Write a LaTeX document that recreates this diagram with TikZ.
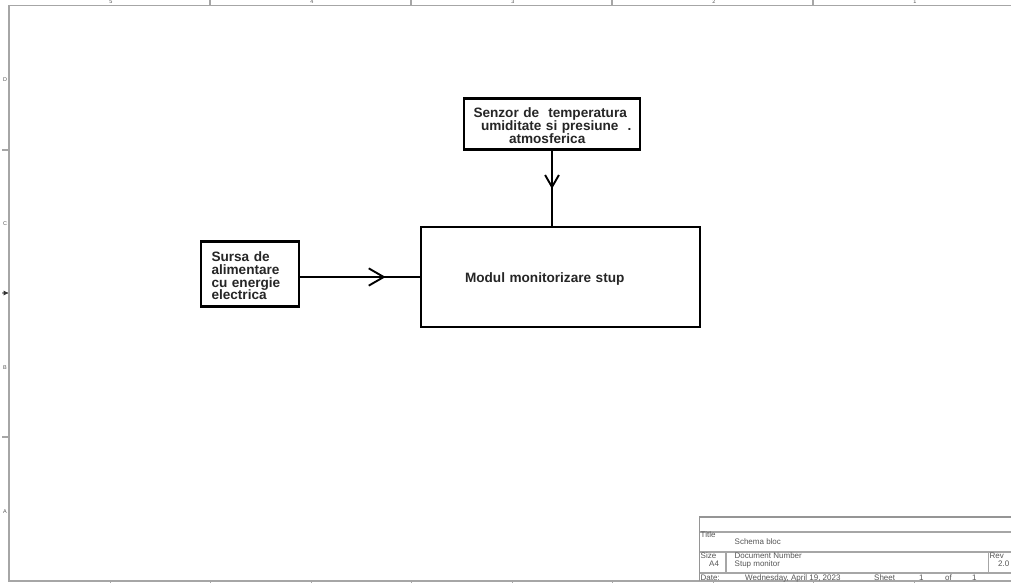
\documentclass[tikz,border=0pt]{standalone}
\usepackage{fontspec}
\setmainfont{Liberation Sans}
\usetikzlibrary{arrows.meta,decorations.markings}
\definecolor{framegray}{HTML}{A6A6A6}
\definecolor{smalltext}{HTML}{555555}
\newcommand{\pushdown}{\rule{0pt}{13.5pt}}
\tikzset{
  x=1pt,y=-1pt,
  blockbox/.style={draw=black,line width=2.6pt,fill=white,rectangle,anchor=north west,outer sep=0pt,inner ysep=0pt,align=left,font=\bfseries\fontsize{13.6}{12.8}\selectfont,text=black!85},
  flow/.style={draw=black,line width=2.6pt,postaction={decorate}},
  framel/.style={draw=framegray,line width=1.7pt},
  tickl/.style={draw=framegray,line width=1.4pt},
  small/.style={font=\fontsize{8}{8}\selectfont,text=smalltext,inner sep=0pt,anchor=base west},
  ruler/.style={font=\fontsize{5.5}{6}\selectfont,text=smalltext,inner sep=0pt},
  midbarb/.style args={#1/#2/#3}{decoration={markings,mark=at position #1 with {\arrow[line width=1.9pt]{Straight Barb[length=#2pt,width=#3pt,angle'=60]}}}}
}
\begin{document}
\begin{tikzpicture}
\useasboundingbox (0,0) rectangle (1011,583);
% frame
\draw[framel] (1011,5.5) -- (9,5.5) -- (9,581) -- (1011,581);
\foreach \x in {210,411,612,813}{
  \draw[tickl] (\x,0) -- (\x,5.5);
}
\foreach \x in {110,210,311,411,512,612,713,813,914}{
  \draw[framegray,line width=0.8pt] (\x,581) -- (\x,583);
}
\foreach \y in {150,293,437}{
  \draw[tickl] (2,\y) -- (9,\y);
}
\fill[black!80] (3.5,290.5) -- (8,293) -- (3.5,295.5) -- cycle;
\node[ruler] (t5) at (111,2) {5};
\node[ruler] (t4) at (312,2) {4};
\node[ruler] (t3) at (513,2) {3};
\node[ruler] (t2) at (714,2) {2};
\node[ruler] (t1) at (915,2) {1};
\node[ruler] (ld) at (5,80) {D};
\node[ruler] (lc) at (5,224) {C};
\node[ruler] (lb) at (5,368) {B};
\node[ruler] (la) at (5,512) {A};
% blocks
\node[blockbox,minimum width=176pt,minimum height=50.5pt,text width=166pt,inner xsep=5pt] (sensor) at (464,98.7)
  {\pushdown\hspace*{4.5pt}Senzor de\ \ temperatura\\\hspace*{12pt}umiditate si presiune\ \ .\\\hspace*{40pt}atmosferica};
\node[blockbox,minimum width=98pt,minimum height=65pt,text width=88pt,inner xsep=5pt] (source) at (201,241.5)
  {\pushdown\hspace*{5.5pt}Sursa de\\\hspace*{5.5pt}alimentare\\\hspace*{5.5pt}cu energie\\\hspace*{5.5pt}electrica};
\node[blockbox,minimum width=279pt,minimum height=100pt,text width=269pt,inner xsep=5pt] (main) at (421,227)
  {\pushdown\hspace*{39pt}Modul monitorizare stup};
% connectors
\path[flow,midbarb=0.51/12/20] (sensor.south) -- (sensor.south |- main.north);
\path[flow,midbarb=0.71/15/16] (source.east |- main.west) -- (main.west);
% title block
\draw[framel,draw=framegray!90!black,line width=1.3pt] (1011,517) -- (699.5,517) -- (699.5,581);
\coordinate (ra) at (699.5,532); \coordinate (rb) at (699.5,552); \coordinate (rc) at (699.5,573);
\draw[framel,line width=1.2pt] (ra) -- (ra -| 1011,0);
\draw[framel,line width=1.2pt] (rb) -- (rb -| 1011,0);
\draw[framel,line width=1.2pt] (rc) -- (rc -| 1011,0);
\draw[framel,line width=1.2pt] (726,552) -- (726,573);
\draw[framel,line width=1.2pt] (988.5,552) -- (988.5,573);
\node[small] (title) at (700.5,537.5) {Title};
\node[small] (tval) at (734.5,544.5) {Schema bloc};
\node[small] (size) at (700.5,558.5) {Size};
\node[small] (sval) at (709,566) {A4};
\node[small] (docn) at (734.5,558.5) {Document Number};
\node[small] (dval) at (734.5,566) {Stup monitor};
\node[small] (rev) at (989.5,558.5) {Rev};
\node[small] (rval) at (998,566) {2.0};
\node[small] (dlab) at (700.5,580.5) {Date:};
\node[small] (dtxt) at (745,580.5) {Wednesday, April 19, 2023};
\node[small] (shl) at (874,580.5) {Sheet};
\node[small] (sh1) at (919,580.5) {1};
\node[small] (shof) at (945,580.5) {of};
\node[small] (sh2) at (972,580.5) {1};
\end{tikzpicture}
\end{document}
